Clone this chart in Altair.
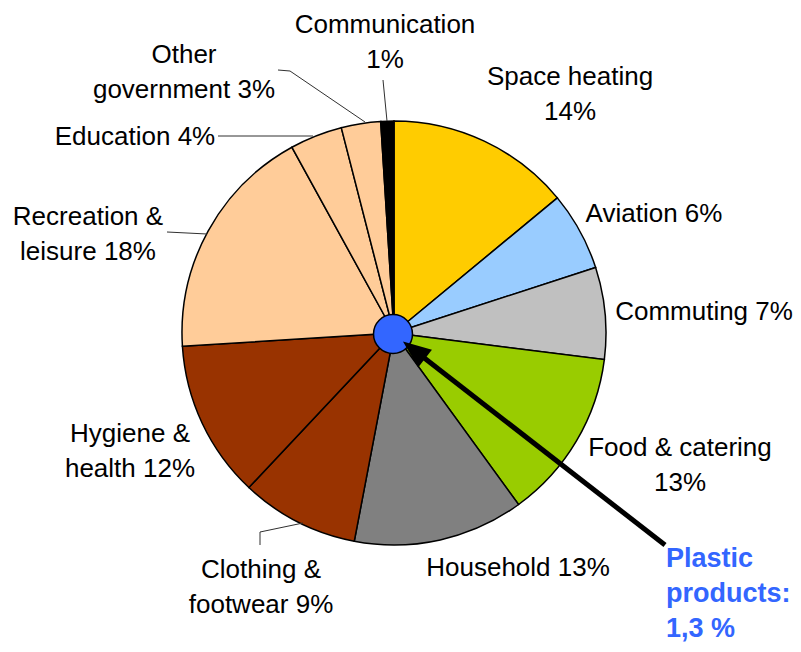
import altair as alt
import pandas as pd

# ---- data ----
categories = ["Space heating", "Aviation", "Commuting", "Food & catering", "Household",
              "Clothing & footwear", "Hygiene & health", "Recreation & leisure",
              "Education", "Other government", "Communication"]
values = [14, 6, 7, 13, 13, 9, 12, 18, 4, 3, 1]
label_prefix = ["Space heating\n", "Aviation ", "Commuting ", "Food & catering\n", "Household ",
                "Clothing &\nfootwear ", "Hygiene &\nhealth ", "Recreation &\nleisure ",
                "Education ", "Other\ngovernment ", "Communication\n"]
colors = ["#FFCC00", "#99CCFF", "#C0C0C0", "#99CC00", "#808080",
          "#993300", "#993300", "#FFCC99", "#FFCC99", "#FFCC99", "#000000"]
plastic_text = "Plastic\nproducts:\n1,3 %"

# ---- layout (page pixels) ----
M = 8
W, H = 801 - 2 * M, 652 - 2 * M
CX, CY, R = 394 - M, 333 - M, 212
label_xy = [(570, 85), (654, 222), (704, 320), (680, 456), (518, 576),
            (261, 578), (130, 442), (88, 225), (135, 145), (184, 63), (385, 33)]
leaders = [  # segments x, y, x2, y2
    (383, 80, 387, 121),
    (278, 70, 290, 71), (290, 71, 365, 122),
    (218, 136, 313, 136),
    (167, 232, 207, 234),
    (260, 545, 260, 532), (260, 532, 303, 523),
]
arrow_tail = (665, 545)
arrow_head = (414, 350)
arrow_angle = 308
circle_xy = (393, 334)
plastic_xy = (666, 567)

pie_df = pd.DataFrame({"category": categories, "value": values, "idx": list(range(len(values)))})
lab_df = pd.DataFrame({
    "label": [p + f"{v}%" for p, v in zip(label_prefix, values)],
    "lx": [x - M for x, _ in label_xy],
    "ly": [y - M for _, y in label_xy],
})
lead_df = pd.DataFrame([(a - M, b - M, c - M, d - M) for a, b, c, d in leaders],
                       columns=["x", "y", "x2", "y2"])

pie = alt.Chart(pie_df).mark_arc(outerRadius=R, stroke="black", strokeWidth=1.5).encode(
    theta=alt.Theta("value:Q", stack=True),
    order=alt.Order("idx:Q"),
    color=alt.Color("category:N", scale=alt.Scale(domain=categories, range=colors), legend=None),
    x=alt.value(CX), y=alt.value(CY),
)

labels = alt.Chart(lab_df).mark_text(
    font="Liberation Sans", fontSize=26, align="center", baseline="alphabetic",
    lineBreak="\n", lineHeight=35, color="black",
).encode(
    x=alt.X("lx:Q", scale=None, axis=None),
    y=alt.Y("ly:Q", scale=None, axis=None),
    text="label:N",
)

lead = alt.Chart(lead_df).mark_rule(color="#303030", strokeWidth=1).encode(
    x=alt.X("x:Q", scale=None, axis=None), y=alt.Y("y:Q", scale=None, axis=None),
    x2="x2:Q", y2="y2:Q",
)

one = pd.DataFrame({"k": [0]})
circle = alt.Chart(one).mark_point(
    shape="circle", filled=True, fill="#3366FF", stroke="black", strokeWidth=1.5,
    opacity=1, size=1520,
).encode(x=alt.value(circle_xy[0] - M), y=alt.value(circle_xy[1] - M))

shaft = alt.Chart(one).mark_rule(color="black", strokeWidth=5).encode(
    x=alt.value(arrow_tail[0] - M), y=alt.value(arrow_tail[1] - M),
    x2=alt.value(arrow_head[0] - M), y2=alt.value(arrow_head[1] - M),
)
head = alt.Chart(one).mark_point(
    shape="M0,-1L0.8,1L-0.8,1Z", filled=True, color="black", opacity=1,
    size=784, angle=arrow_angle, strokeWidth=0,
).encode(x=alt.value(arrow_head[0] - M), y=alt.value(arrow_head[1] - M))

plastic = alt.Chart(pd.DataFrame({"t": [plastic_text]})).mark_text(
    font="Liberation Sans", fontSize=27, fontWeight="bold", align="left",
    baseline="alphabetic", lineBreak="\n", lineHeight=35, color="#3366FF",
).encode(x=alt.value(plastic_xy[0] - M), y=alt.value(plastic_xy[1] - M), text="t:N")

chart = alt.layer(pie, lead, labels, circle, shaft, head, plastic).properties(
    width=W, height=H, padding=0,
    autosize=alt.AutoSizeParams(type="fit", contains="padding"),
).configure_view(stroke=None)

chart.save("out.html", embed_options={"renderer": "svg", "actions": False})
